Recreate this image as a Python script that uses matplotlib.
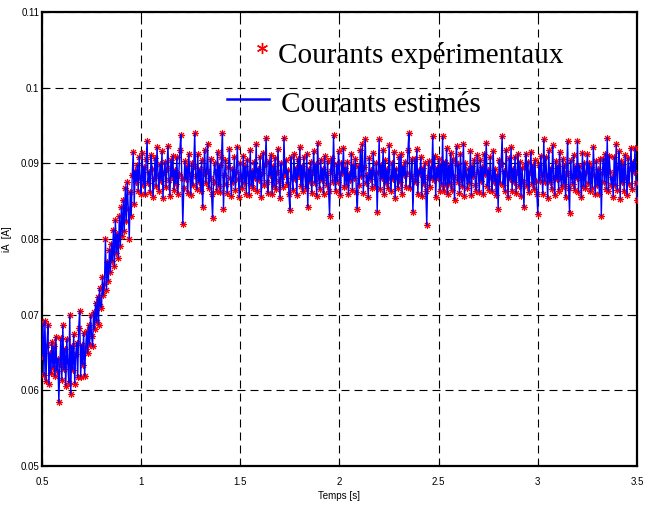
import numpy as np
import matplotlib
matplotlib.use("Agg")
import matplotlib.pyplot as plt

# Sampling instants (5 ms step) and measured phase current, in mA
t = np.round(0.5 + 0.005 * np.arange(601), 3)

# 0.500 s .. 0.720 s : low-speed phase
i_start_mA = [
    64.5, 68.9, 62.0, 69.2, 61.2, 66.0, 68.7, 60.8, 64.9, 62.3,
    66.4, 63.0, 65.8, 61.9, 67.1, 62.6, 64.2, 58.4, 63.5, 66.9,
    61.4, 68.6, 62.8, 65.5, 60.6, 66.8, 63.7, 61.0, 70.0, 59.5,
    65.9, 62.7, 67.4, 60.9, 64.8, 66.3, 61.7, 68.2, 70.5, 61.8,
    66.0, 63.4, 67.6, 61.9, 65.5,
]
# 0.725 s .. 0.970 s : current build-up
i_rise_mA = [
    67.8, 64.9, 68.6, 66.0, 69.9, 67.2, 65.8, 70.4, 68.1, 71.6,
    69.0, 72.4, 68.7, 73.5, 71.2, 70.9, 75.0, 72.6, 74.1, 80.0,
    73.3, 77.0, 74.5, 78.6, 75.6, 79.4, 77.1, 81.2, 76.4, 82.5,
    78.2, 80.6, 77.5, 83.0, 79.1, 84.2, 80.4, 85.1, 81.0, 86.8,
    82.4, 87.5, 84.0, 80.0, 86.2, 83.1, 88.4, 91.5, 84.6, 89.0,
]
# 0.975 s .. 3.500 s : steady state
i_steady_mA = [
    87.6, 89.8, 86.3, 90.9, 88.1, 86.0, 91.4, 87.2, 89.5, 85.9,
    90.6, 93.0, 87.4, 88.9, 86.2, 91.1, 89.3, 85.6, 88.0, 90.7,
    87.0, 92.1, 88.5, 86.4, 89.9, 87.7, 91.6, 85.4, 88.8, 90.2,
    86.9, 89.4, 92.3, 87.8, 85.7, 90.5, 88.2, 91.0, 86.5, 89.1,
    87.3, 90.8, 86.0, 88.6, 91.7, 93.8, 88.0, 82.0, 86.8, 90.3,
    87.9, 89.6, 86.1, 91.3, 88.4, 85.8, 90.0, 87.1, 89.7, 94.0,
    88.3, 86.6, 91.2, 87.5, 89.2, 86.3, 90.4, 84.2, 88.7, 91.8,
    87.4, 89.0, 92.6, 86.7, 88.1, 90.6, 85.9, 82.8, 87.6, 90.1,
    88.9, 86.4, 91.5, 87.0, 89.8, 86.2, 90.9, 94.0, 84.0, 88.5,
    90.4, 87.3, 86.1, 89.5, 91.9, 88.0, 85.7, 89.2, 87.6, 90.8,
    86.5, 88.8, 92.2, 87.9, 85.5, 90.1, 88.3, 86.8, 91.0, 87.4,
    89.6, 86.0, 90.5, 88.6, 85.8, 91.7, 87.1, 89.0, 86.7, 90.2,
    88.0, 92.5, 86.4, 89.3, 87.8, 90.9, 85.6, 88.7, 91.4, 87.2,
    89.9, 93.4, 87.5, 86.1, 90.3, 88.4, 91.1, 85.9, 89.6, 87.0,
    90.7, 86.6, 88.9, 91.9, 87.7, 85.4, 90.0, 88.2, 86.9, 93.4,
    88.6, 90.4, 87.3, 89.1, 86.0, 83.8, 90.8, 88.0, 86.5, 91.2,
    87.9, 89.4, 85.8, 90.6, 88.3, 92.1, 87.0, 89.7, 86.3, 90.9,
    88.5, 86.7, 91.3, 84.2, 89.2, 87.6, 90.2, 86.1, 88.8, 91.6,
    87.4, 89.9, 85.7, 92.7, 88.1, 86.6, 90.5, 87.8, 89.3, 86.0,
    91.0, 88.4, 87.1, 90.3, 86.4, 83.1, 89.0, 90.7, 87.5, 93.7,
    88.2, 86.4, 89.9, 87.6, 91.6, 88.7, 85.8, 90.1, 88.7, 92.0,
    86.9, 89.4, 87.2, 90.2, 85.9, 88.6, 87.8, 91.3, 86.5, 89.8,
    88.0, 90.6, 86.2, 84.0, 89.6, 87.2, 91.8, 88.3, 92.5, 86.1,
    89.5, 93.2, 87.4, 88.4, 85.5, 90.7, 87.9, 89.1, 86.8, 91.4,
    88.6, 87.0, 90.0, 83.6, 88.9, 93.2, 86.6, 89.8, 88.0, 91.8,
    85.9, 90.4, 87.4, 89.2, 86.7, 92.4, 88.1, 86.3, 90.1, 87.9,
    91.5, 85.4, 89.3, 88.2, 86.8, 90.9, 87.5, 91.2, 86.0, 89.6,
    88.4, 90.2, 86.9, 88.7, 91.7, 94.0, 86.8, 88.3, 90.6, 83.6,
    87.7, 90.6, 87.5, 91.9, 86.0, 89.1, 88.6, 90.8, 85.7, 89.4,
    87.3, 90.0, 86.4, 81.8, 88.2, 90.3, 86.9, 89.5, 88.0, 93.6,
    87.8, 91.0, 85.6, 89.4, 88.1, 90.6, 86.4, 89.9, 87.2, 93.6,
    86.4, 90.2, 87.1, 92.0, 85.9, 89.7, 87.3, 91.4, 86.5, 90.6,
    88.2, 85.2, 90.1, 92.3, 87.6, 89.9, 86.1, 91.2, 88.0, 87.0,
    92.6, 85.7, 90.0, 88.5, 86.7, 89.3, 87.4, 91.6, 85.8, 89.6,
    88.3, 90.5, 87.1, 86.4, 91.1, 88.8, 86.2, 90.4, 87.7, 89.5,
    85.9, 91.3, 88.6, 92.7, 87.0, 89.1, 86.5, 90.8, 88.1, 86.3,
    91.6, 87.6, 89.2, 85.8, 88.5, 84.0, 90.5, 87.4, 89.9, 93.6,
    87.2, 89.0, 86.3, 91.8, 88.5, 85.5, 90.7, 87.9, 92.1, 86.4,
    89.3, 87.5, 90.9, 86.1, 88.8, 91.3, 87.0, 90.2, 85.7, 89.4,
    87.6, 84.2, 89.6, 91.3, 87.0, 90.2, 86.2, 88.9, 91.5, 87.3,
    89.8, 86.6, 90.4, 87.7, 85.9, 83.3, 89.8, 87.7, 91.0, 88.4,
    86.0, 93.2, 87.6, 90.9, 88.3, 85.4, 91.7, 87.5, 89.4, 86.6,
    92.4, 88.1, 85.8, 90.3, 87.9, 89.7, 86.4, 91.5, 88.0, 86.9,
    90.6, 87.3, 89.8, 85.6, 88.7, 92.9, 86.8, 83.5, 90.4, 88.2,
    87.3, 91.1, 86.5, 89.6, 88.0, 92.9, 86.2, 89.7, 88.6, 85.5,
    91.4, 87.0, 90.1, 86.7, 88.9, 91.2, 87.4, 90.0, 86.3, 89.5,
    86.8, 92.2, 88.4, 85.9, 90.3, 87.1, 89.2, 86.0, 90.6, 83.1,
    88.7, 90.6, 87.6, 91.3, 86.6, 93.4, 86.3, 91.0, 88.8, 87.2,
    88.2, 85.6, 90.8, 87.1, 92.5, 86.5, 89.5, 91.6, 85.3, 90.3,
    87.5, 89.9, 86.4, 91.1, 88.0, 85.8, 90.7, 87.3, 89.4, 92.0,
    86.6, 90.2, 88.9, 92.0, 87.4, 85.1,
]

i_exp = np.array(i_start_mA + i_rise_mA + i_steady_mA) / 1000.0
i_est = i_exp.copy()

x_ticks = [0.5, 1, 1.5, 2, 2.5, 3, 3.5]
x_labels = ["0.5", "1", "1.5", "2", "2.5", "3", "3.5"]
y_ticks = [0.05, 0.06, 0.07, 0.08, 0.09, 0.10, 0.11]
y_labels = ["0.05", "0.06", "0.07", "0.08", "0.09", "0.1", "0.11"]

tick_font = ["Liberation Sans", "DejaVu Sans"]
legend_font = ["Liberation Serif", "DejaVu Serif"]

fig = plt.figure(figsize=(6.5, 5.08), dpi=100)
ax = fig.add_axes([0.0646, 0.0826, 0.9154, 0.8938])

asterisk = (8, 2, 0)
ax.plot(t, i_exp, linestyle="none", marker=asterisk, markersize=5,
        markeredgecolor="#ff0000", markeredgewidth=0.75, color="#ff0000", zorder=3)
ax.plot(t, i_est, color="#0000ff", linewidth=1.0, zorder=4)

ax.set_xlim(0.5, 3.5)
ax.set_ylim(0.05, 0.11)
ax.set_xticks(x_ticks)
ax.set_xticklabels(x_labels, family=tick_font, fontsize=7)
ax.set_yticks(y_ticks)
ax.set_yticklabels(y_labels, family=tick_font, fontsize=7)
ax.tick_params(direction="in", length=4, width=0.8, top=True, right=True)
ax.tick_params(axis="x", pad=8)
ax.tick_params(axis="y", pad=2)

ax.grid(True, color="black", linestyle=(0, (7.2, 4.5)), linewidth=0.8)
ax.set_axisbelow(True)
for s in ax.spines.values():
    s.set_linewidth(1.6)

ax.set_xlabel("Temps [s]", family=tick_font, fontsize=7, labelpad=3)
ax.set_ylabel("iA  [A]", family=tick_font, fontsize=7)
ax.yaxis.set_label_coords(-0.05, 0.5)

# Hand-placed legend without frame
ax.plot([0.370], [0.921], transform=ax.transAxes, linestyle="none",
        marker=(6, 2, 0), markersize=8, markeredgecolor="#ff0000",
        markeredgewidth=1.0, zorder=6)
ax.text(0.397, 0.887, "Courants expérimentaux", transform=ax.transAxes,
        family=legend_font, fontsize=21, va="baseline", ha="left", zorder=6)
ax.plot([0.311, 0.382], [0.808, 0.808], transform=ax.transAxes,
        color="#0000ff", linewidth=1.8, zorder=6)
ax.text(0.402, 0.779, "Courants estimés", transform=ax.transAxes,
        family=legend_font, fontsize=21, va="baseline", ha="left", zorder=6)

fig.savefig("out.png", dpi=100)
